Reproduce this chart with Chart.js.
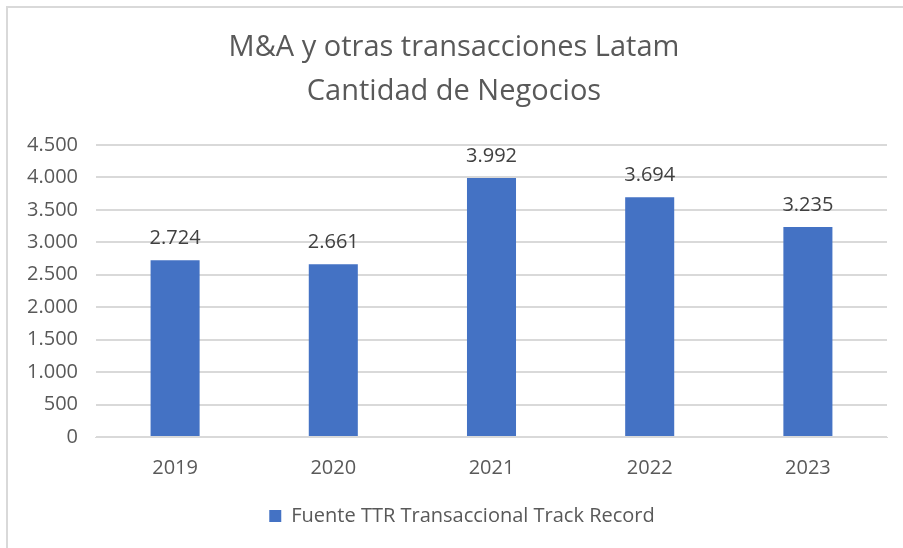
<!DOCTYPE html>
<html>
<head>
<meta charset="utf-8">
<script src="https://cdn.jsdelivr.net/npm/chart.js@4"></script>
<style>
  html, body { margin: 0; padding: 0; background: #fff; }
  #wrap { position: relative; width: 903px; height: 548px; }
  #frame { position: absolute; left: 6px; top: 6px; right: 0; bottom: 0;
           border-left: 2px solid #d9d9d9; border-top: 2px solid #d9d9d9; }
  canvas { position: absolute; left: 0; top: 0; }
</style>
</head>
<body>
<div id="wrap">
  <div id="frame"></div>
  <canvas id="myChart" width="903" height="548"></canvas>
</div>
<script>
const years = ["2019", "2020", "2021", "2022", "2023"];
const deals = [2724, 2661, 3992, 3694, 3235];
const seriesName = "Fuente TTR Transaccional Track Record";
const titleLines = ["M&A y otras transacciones Latam", "Cantidad de Negocios"];

const fmt = (v) => v.toLocaleString("de-DE");

// etiquetas encima de cada barra
const barLabels = {
  id: "barLabels",
  afterDatasetsDraw(chart) {
    const ctx = chart.ctx;
    const meta = chart.getDatasetMeta(0);
    ctx.save();
    ctx.font = "20px 'Open Sans', sans-serif";
    ctx.fillStyle = "#404040";
    ctx.textAlign = "center";
    ctx.textBaseline = "bottom";
    meta.data.forEach((bar, i) => {
      ctx.fillText(fmt(deals[i]), bar.x, bar.y - 12);
    });
    ctx.restore();
  },
};

// titulo y leyenda un poco corridos, como en el original
const shiftBoxes = {
  id: "shiftBoxes",
  afterLayout(chart) {
    chart.legend.left += 14;
    chart.legend.right += 14;
    chart.legend.top += 3;
    chart.legend.bottom += 3;
    chart.titleBlock.left += 6;
    chart.titleBlock.right += 6;
  },
};

Chart.defaults.font.family = "'Open Sans', sans-serif";
Chart.defaults.color = "#595959";

new Chart(document.getElementById("myChart"), {
  type: "bar",
  data: {
    labels: years,
    datasets: [
      {
        label: seriesName,
        data: deals,
        backgroundColor: "#4472C4",
        barPercentage: 0.31,
        categoryPercentage: 1,
      },
    ],
  },
  options: {
    responsive: false,
    animation: false,
    layout: { padding: { left: 9, right: 16, top: 0, bottom: 15 } },
    plugins: {
      title: {
        display: true,
        text: titleLines,
        color: "#595959",
        font: { size: 29, weight: "normal", lineHeight: 1.5 },
        padding: { top: 26, bottom: 32 },
      },
      legend: {
        position: "bottom",
        labels: {
          boxWidth: 12,
          boxHeight: 12,
          font: { size: 20 },
          color: "#595959",
          padding: 12,
        },
      },
      tooltip: { enabled: false },
    },
    scales: {
      x: {
        grid: { display: false },
        border: { color: "#d9d9d9" },
        ticks: { font: { size: 20 }, color: "#595959", padding: 11 },
      },
      y: {
        min: 0,
        max: 4500,
        ticks: {
          stepSize: 500,
          font: { size: 20 },
          color: "#595959",
          padding: 18,
          callback: (v) => fmt(v),
        },
        grid: { color: "#d9d9d9", lineWidth: 2, drawTicks: false },
        border: { display: false },
      },
    },
  },
  plugins: [barLabels, shiftBoxes],
});
</script>
</body>
</html>
